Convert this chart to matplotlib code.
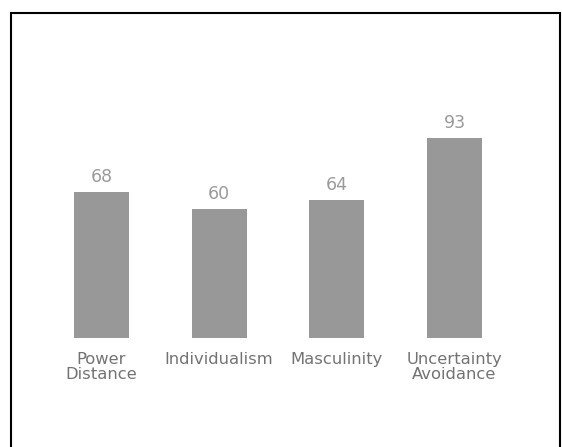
import matplotlib.pyplot as plt
from matplotlib.patches import Rectangle

categories = ['Power\nDistance', 'Individualism', 'Masculinity', 'Uncertainty\nAvoidance']
scores = [68, 60, 64, 93]

W, H = 562, 447
fig = plt.figure(figsize=(W / 100, H / 100), dpi=100)
ax = fig.add_axes([0, 0, 1, 1])

# pixel -> data mapping
px_unit = 117.67
x0_px = 101.5
y_scale = 2.15
base_px = 338

ax.set_xlim(-x0_px / px_unit, (W - x0_px) / px_unit)
ax.set_ylim(-(H - base_px) / y_scale, base_px / y_scale)
ax.axis('off')

xs = range(len(scores))
ax.bar(xs, scores, width=0.466, color='#999899')

for x, v in zip(xs, scores):
    ax.text(x, v + 2.8, str(v), ha='center', va='bottom',
            fontsize=12.5, color='#9a9a9a')

for x, c in zip(xs, categories):
    ax.text(x, -6.5, c, ha='center', va='top', fontsize=11.8,
            color='#737373', linespacing=0.98)

# frame around the picture
fig.patches.append(Rectangle((10.5 / W, -0.05), (560 - 10.5) / W, 1.05 - 12.5 / H,
                             transform=fig.transFigure, fill=False,
                             edgecolor='black', linewidth=1.5))

fig.savefig('out.png', dpi=100)
